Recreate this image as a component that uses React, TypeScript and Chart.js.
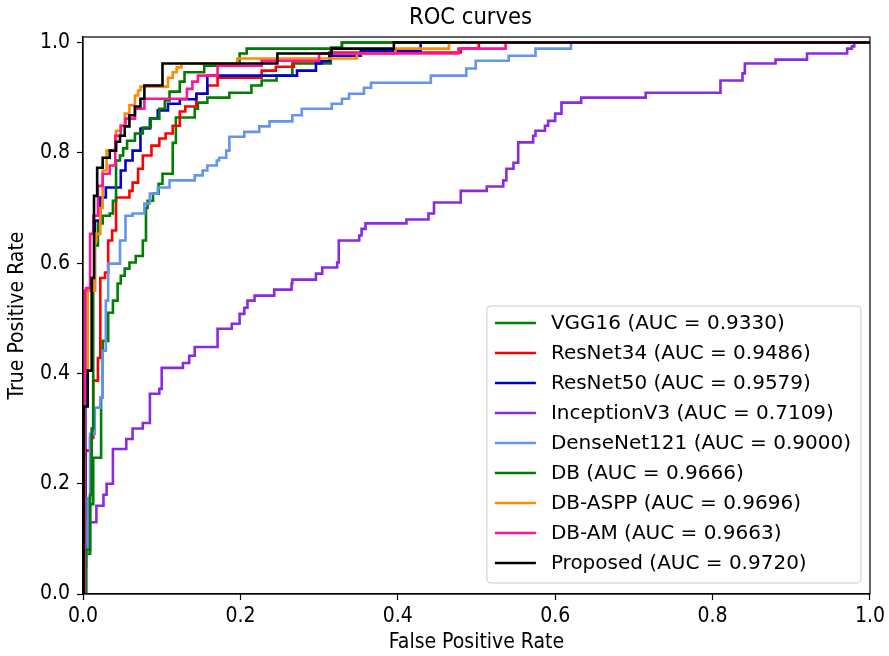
import React, { useEffect, useRef } from 'react';
import { Chart, registerables } from 'chart.js';

Chart.register(...registerables);

const W = 889;
const H = 656;
const FONT = '"DejaVu Sans", "Liberation Sans", sans-serif';
const CFONT = '"DejaVu Sans Condensed", "DejaVu Sans", sans-serif';

const titleText = 'ROC curves';
const xTitle = 'False Positive Rate';
const yTitle = 'True Positive Rate';
const xTicks = [0, 0.2, 0.4, 0.6, 0.8, 1.0];
const yTicks = [0, 0.2, 0.4, 0.6, 0.8, 1.0];

const seriesLabels = [
  'VGG16 (AUC = 0.9330)',
  'ResNet34 (AUC = 0.9486)',
  'ResNet50 (AUC = 0.9579)',
  'InceptionV3 (AUC = 0.7109)',
  'DenseNet121 (AUC = 0.9000)',
  'DB (AUC = 0.9666)',
  'DB-ASPP (AUC = 0.9696)',
  'DB-AM (AUC = 0.9663)',
  'Proposed (AUC = 0.9720)',
];
const seriesColors = ['#008000', '#ff0000', '#0000cd', '#8a2be2', '#6495ed', '#007a00', '#ff8c00', '#ff1493', '#000000'];

const vgg16Fpr = [0, 0.003, 0.004, 0.009, 0.013, 0.023, 0.025, 0.032, 0.038, 0.044, 0.048, 0.053, 0.059, 0.067, 0.076, 0.080, 0.082, 0.089, 0.096, 0.101, 0.114, 0.118, 0.142, 0.146, 0.158, 0.186, 0.214, 0.227, 0.246, 0.266, 0.315, 0.329, 1];
const vgg16Tpr = [0, 0.05, 0.073, 0.163, 0.247, 0.356, 0.459, 0.51, 0.532, 0.563, 0.577, 0.59, 0.601, 0.613, 0.641, 0.70, 0.713, 0.726, 0.744, 0.762, 0.818, 0.864, 0.88, 0.891, 0.90, 0.909, 0.922, 0.931, 0.94, 0.962, 0.991, 1.0, 1.0];

const resnet34Fpr = [0, 0.003, 0.009, 0.013, 0.019, 0.022, 0.028, 0.032, 0.037, 0.042, 0.059, 0.063, 0.070, 0.076, 0.087, 0.097, 0.105, 0.114, 0.123, 0.130, 0.144, 0.158, 0.171, 0.227, 0.245, 0.268, 0.313, 0.480, 0.503, 1];
const resnet34Tpr = [0, 0.26, 0.283, 0.387, 0.428, 0.573, 0.583, 0.641, 0.659, 0.719, 0.731, 0.746, 0.771, 0.795, 0.813, 0.826, 0.835, 0.849, 0.875, 0.884, 0.907, 0.922, 0.936, 0.949, 0.956, 0.966, 0.982, 0.989, 1.0, 1.0];

const resnet50Fpr = [0, 0.003, 0.015, 0.022, 0.029, 0.048, 0.054, 0.063, 0.073, 0.085, 0.095, 0.108, 0.123, 0.144, 0.158, 0.272, 0.296, 0.303, 0.313, 0.353, 0.429, 1];
const resnet50Tpr = [0, 0.55, 0.677, 0.719, 0.737, 0.768, 0.786, 0.804, 0.844, 0.862, 0.877, 0.889, 0.897, 0.907, 0.94, 0.949, 0.962, 0.966, 0.976, 0.985, 1.0, 1.0];

const inceptionFpr = [0, 0, 0.005, 0.017, 0.026, 0.030, 0.038, 0.055, 0.063, 0.076, 0.085, 0.097, 0.100, 0.127, 0.135, 0.142, 0.171, 0.189, 0.199, 0.205, 0.209, 0.218, 0.243, 0.265, 0.266, 0.296, 0.304, 0.323, 0.325, 0.351, 0.354, 0.359, 0.411, 0.439, 0.446, 0.480, 0.513, 0.534, 0.538, 0.547, 0.553, 0.572, 0.575, 0.587, 0.591, 0.600, 0.608, 0.633, 0.715, 0.810, 0.838, 0.841, 0.880, 0.920, 0.971, 0.977, 0.980, 1];
const inceptionTpr = [0, 0.09, 0.13, 0.16, 0.18, 0.20, 0.263, 0.281, 0.30, 0.31, 0.363, 0.372, 0.41, 0.419, 0.432, 0.448, 0.481, 0.49, 0.508, 0.519, 0.532, 0.541, 0.552, 0.563, 0.57, 0.581, 0.592, 0.601, 0.641, 0.65, 0.662, 0.672, 0.679, 0.69, 0.71, 0.731, 0.739, 0.75, 0.771, 0.782, 0.819, 0.831, 0.84, 0.849, 0.858, 0.871, 0.891, 0.90, 0.909, 0.931, 0.944, 0.962, 0.969, 0.98, 0.989, 0.993, 1.0, 1.0];

const densenetFpr = [0, 0.004, 0.006, 0.009, 0.015, 0.022, 0.025, 0.029, 0.032, 0.047, 0.054, 0.063, 0.078, 0.085, 0.095, 0.110, 0.142, 0.152, 0.158, 0.170, 0.173, 0.182, 0.186, 0.205, 0.224, 0.237, 0.266, 0.278, 0.316, 0.329, 0.338, 0.357, 0.366, 0.442, 0.487, 0.499, 0.541, 0.575, 0.620, 1];
const densenetTpr = [0, 0.078, 0.174, 0.29, 0.338, 0.356, 0.441, 0.532, 0.599, 0.641, 0.686, 0.69, 0.708, 0.726, 0.737, 0.75, 0.759, 0.768, 0.777, 0.786, 0.791, 0.804, 0.829, 0.838, 0.848, 0.857, 0.868, 0.88, 0.889, 0.898, 0.907, 0.918, 0.927, 0.94, 0.953, 0.967, 0.976, 0.989, 1.0, 1.0];

const dbFpr = [0, 0.004, 0.009, 0.011, 0.013, 0.015, 0.019, 0.025, 0.034, 0.038, 0.042, 0.047, 0.051, 0.056, 0.066, 0.076, 0.086, 0.097, 0.104, 0.110, 0.123, 0.129, 0.154, 0.192, 0.199, 0.208, 0.329, 1];
const dbTpr = [0, 0.08, 0.18, 0.30, 0.55, 0.632, 0.672, 0.686, 0.69, 0.713, 0.786, 0.795, 0.808, 0.822, 0.835, 0.846, 0.862, 0.88, 0.895, 0.911, 0.929, 0.946, 0.958, 0.962, 0.98, 0.989, 1.0, 1.0];

const dbAsppFpr = [0, 0.002, 0.006, 0.015, 0.017, 0.022, 0.025, 0.030, 0.042, 0.048, 0.053, 0.059, 0.066, 0.070, 0.073, 0.108, 0.114, 0.119, 0.125, 0.196, 0.348, 0.397, 0.465, 1];
const dbAsppTpr = [0, 0.40, 0.55, 0.641, 0.653, 0.70, 0.768, 0.804, 0.84, 0.849, 0.871, 0.886, 0.904, 0.913, 0.92, 0.936, 0.946, 0.955, 0.962, 0.971, 0.98, 0.989, 1.0, 1.0];

const dbAmFpr = [0, 0.002, 0.004, 0.009, 0.013, 0.019, 0.025, 0.034, 0.041, 0.048, 0.054, 0.066, 0.078, 0.132, 0.139, 0.146, 0.171, 0.227, 0.300, 0.477, 0.537, 1];
const dbAmTpr = [0, 0.55, 0.555, 0.653, 0.686, 0.74, 0.762, 0.777, 0.831, 0.849, 0.862, 0.88, 0.898, 0.916, 0.929, 0.94, 0.958, 0.967, 0.98, 0.989, 1.0, 1.0];

const proposedFpr = [0, 0.001, 0.006, 0.011, 0.014, 0.018, 0.025, 0.034, 0.042, 0.047, 0.053, 0.059, 0.066, 0.073, 0.078, 0.101, 0.247, 0.316, 0.395, 1];
const proposedTpr = [0, 0.34, 0.405, 0.573, 0.722, 0.773, 0.791, 0.804, 0.82, 0.831, 0.848, 0.868, 0.884, 0.898, 0.922, 0.962, 0.98, 0.989, 1.0, 1.0];

const seriesFpr = [vgg16Fpr, resnet34Fpr, resnet50Fpr, inceptionFpr, densenetFpr, dbFpr, dbAsppFpr, dbAmFpr, proposedFpr];
const seriesTpr = [vgg16Tpr, resnet34Tpr, resnet50Tpr, inceptionTpr, densenetTpr, dbTpr, dbAsppTpr, dbAmTpr, proposedTpr];

const framePlugin = {
  id: 'frame',
  afterDatasetsDraw(chart: any) {
    const { ctx, chartArea: a } = chart;
    ctx.save();
    ctx.strokeStyle = '#000';
    ctx.lineWidth = 1.2;
    ctx.strokeRect(a.left, a.top, a.right - a.left, a.bottom - a.top);
    ctx.restore();
  },
};

const titlePlugin = {
  id: 'axesTitle',
  afterDraw(chart: any) {
    const { ctx, chartArea: a } = chart;
    ctx.save();
    ctx.font = `23.5px ${CFONT}`;
    ctx.fillStyle = '#000';
    ctx.textAlign = 'center';
    ctx.textBaseline = 'middle';
    ctx.fillText(titleText, (a.left + a.right) / 2 - 6, 18);
    ctx.restore();
  },
};

const legendPlugin = {
  id: 'customLegend',
  afterDraw(chart: any) {
    const { ctx, chartArea: a } = chart;
    ctx.save();
    ctx.font = `20px ${FONT}`;
    const textW = Math.max(...seriesLabels.map((l) => ctx.measureText(l).width));
    const padL = 8, lineLen = 41, gap = 15, padR = 10, rowH = 30;
    const boxW = padL + lineLen + gap + textW + padR;
    const boxH = 277;
    const right = a.right - 9;
    const bottom = a.bottom - 11;
    const left = right - boxW;
    const top = bottom - boxH;
    ctx.beginPath();
    (ctx as any).roundRect(left, top, boxW, boxH, 4);
    ctx.fillStyle = 'rgba(255,255,255,0.8)';
    ctx.fill();
    ctx.strokeStyle = '#cccccc';
    ctx.lineWidth = 1;
    ctx.stroke();
    seriesLabels.forEach((label, i) => {
      const y = top + 17 + rowH * i;
      ctx.beginPath();
      ctx.moveTo(left + padL, y);
      ctx.lineTo(left + padL + lineLen, y);
      ctx.strokeStyle = seriesColors[i];
      ctx.lineWidth = 2.6;
      ctx.stroke();
      ctx.fillStyle = '#000';
      ctx.textBaseline = 'middle';
      ctx.textAlign = 'left';
      ctx.fillText(label, left + padL + lineLen + gap, y + 1);
    });
    ctx.restore();
  },
};

export default function App() {
  const ref = useRef<HTMLCanvasElement>(null);
  useEffect(() => {
    document.body.style.margin = '0';
    const datasets = seriesLabels.map((label, i) => ({
      label,
      data: seriesFpr[i].map((x, j) => ({ x, y: seriesTpr[i][j] })),
      borderColor: seriesColors[i],
      backgroundColor: seriesColors[i],
      borderWidth: 2.6,
      pointRadius: 0,
      stepped: 'before' as const,
      fill: false,
      order: seriesLabels.length - i,
    }));
    const tickFont = { family: CFONT, size: 21 };
    const axisFont = { family: CFONT, size: 21 };
    const chart = new Chart(ref.current!, {
      type: 'line',
      data: { datasets },
      plugins: [framePlugin, legendPlugin, titlePlugin],
      options: {
        responsive: false,
        animation: false,
        devicePixelRatio: 1,
        layout: { padding: { left: 0, right: 16, top: 37, bottom: 0 } },
        plugins: {
          legend: { display: false },
          tooltip: { enabled: false },
          title: { display: false },
        },
        scales: {
          x: {
            type: 'linear',
            min: 0,
            max: 1,
            afterBuildTicks: (s: any) => { s.ticks = xTicks.map((v) => ({ value: v })); },
            afterFit: (s: any) => { s.height = 62; },
            ticks: {
              callback: (v: any) => Number(v).toFixed(1),
              font: tickFont,
              color: '#000',
              padding: 4,
              maxRotation: 0,
              autoSkip: false,
            },
            grid: { display: true, drawOnChartArea: false, drawTicks: true, tickLength: 6, tickColor: '#000', tickWidth: 1.2 },
            border: { display: true, color: '#000', width: 1.2 },
            title: { display: true, text: xTitle, color: '#000', font: axisFont, padding: { top: 0, bottom: 1 } },
          },
          y: {
            type: 'linear',
            min: 0,
            max: 1.01,
            afterBuildTicks: (s: any) => { s.ticks = yTicks.map((v) => ({ value: v })); },
            afterFit: (s: any) => { s.width = 83; },
            ticks: {
              callback: (v: any) => Number(v).toFixed(1),
              font: tickFont,
              color: '#000',
              padding: 7,
              autoSkip: false,
            },
            grid: { display: true, drawOnChartArea: false, drawTicks: true, tickLength: 6, tickColor: '#000', tickWidth: 1.2 },
            border: { display: true, color: '#000', width: 1.2 },
            title: { display: true, text: yTitle, color: '#000', font: axisFont, padding: { top: 5, bottom: 0 } },
          },
        },
      } as any,
    });
    return () => chart.destroy();
  }, []);
  return (
    <div style={{ width: W, height: H }}>
      <canvas ref={ref} width={W} height={H} style={{ display: 'block' }} />
    </div>
  );
}
